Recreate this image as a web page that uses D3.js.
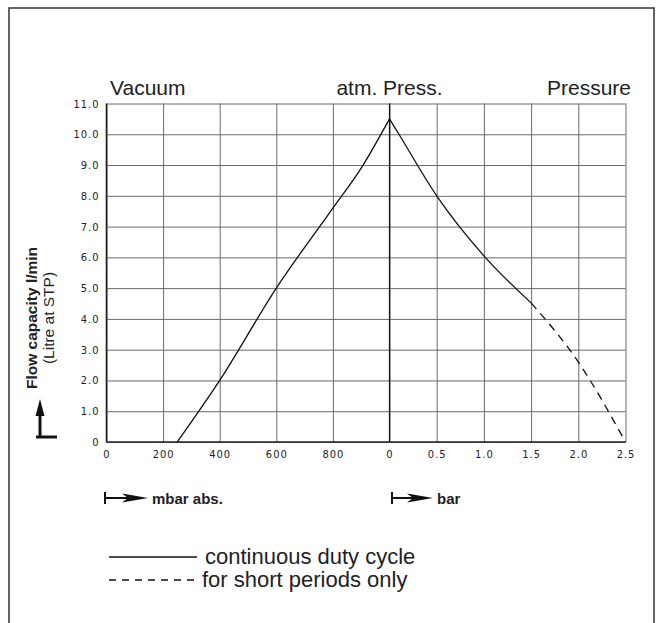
<!DOCTYPE html>
<html>
<head>
<meta charset="utf-8">
<script src="https://cdn.jsdelivr.net/npm/d3@7"></script>
<style>
  body { margin: 0; background: #fff; }
  svg { display: block; }
  .tick text { font-family: 'Liberation Sans Narrow', 'DejaVu Sans Condensed', sans-serif; font-size: 11px; letter-spacing: 1px; fill: #222; }
</style>
</head>
<body>
<svg id="chart" width="663" height="623"></svg>
<script>
// vacuum side: mbar abs. vs flow (l/min)
var vacMbar = [250, 400, 600, 800, 900, 1000];
var vacFlow = [0, 2.0, 5.0, 7.6, 8.9, 10.5];

// pressure side: bar vs flow, continuous part and short-period part
var presBar = [0, 0.1, 0.5, 1.0, 1.5];
var presFlow = [10.5, 10.0, 8.0, 6.05, 4.52];
var shortBar = [1.5, 2.0, 2.5];
var shortFlow = [4.52, 2.6, 0];

var yTicks = [0, 1, 2, 3, 4, 5, 6, 7, 8, 9, 10, 11];
var vacTicks = [0, 200, 400, 600, 800];
var barTicks = [0, 0.5, 1.0, 1.5, 2.0, 2.5];

var plotL = 106.5, plotM = 389.5, plotR = 625.5, plotT = 103.5, plotB = 442;

var svg = d3.select("#chart");

// outer frame (open at the bottom)
svg.append("path")
    .attr("d", "M9,623V8H654V623")
    .attr("fill", "none")
    .attr("stroke", "#333")
    .attr("stroke-width", 1.5);

let xVac = d3.scaleLinear().domain([0, 1000]).range([plotL, plotM]);
let xBar = d3.scaleLinear().domain([0, 2.5]).range([plotM, plotR]);
let y = d3.scaleLinear().domain([0, 11]).range([plotB, plotT]);

// y axis with horizontal grid
let yAxis = d3.axisLeft(y)
    .tickValues(yTicks)
    .tickSize(-(plotR - plotL))
    .tickPadding(7)
    .tickFormat(d => d == 0 ? "0" : d3.format(".1f")(d));

let gy = svg.append("g")
    .attr("transform", "translate(" + plotL + ",0)")
    .call(yAxis);
gy.select(".domain").remove();
gy.selectAll(".tick line").attr("stroke", "#6a6a6a").attr("stroke-width", 1);

// x axes with vertical grid
let xAxisVac = d3.axisBottom(xVac)
    .tickValues(vacTicks)
    .tickSize(-(plotB - plotT))
    .tickPadding(8)
    .tickFormat(d3.format("d"));

let xAxisBar = d3.axisBottom(xBar)
    .tickValues(barTicks)
    .tickSize(-(plotB - plotT))
    .tickPadding(8)
    .tickFormat(d => d == 0 ? "0" : d3.format(".1f")(d));

[xAxisVac, xAxisBar].forEach(ax => {
    let g = svg.append("g")
        .attr("transform", "translate(0," + plotB + ")")
        .call(ax);
    g.select(".domain").remove();
    g.selectAll(".tick line").attr("stroke", "#6a6a6a").attr("stroke-width", 1);
});

// axis lines
svg.append("line").attr("x1", plotL).attr("x2", plotL).attr("y1", plotT).attr("y2", plotB)
    .attr("stroke", "#222").attr("stroke-width", 1.6);
svg.append("line").attr("x1", plotL).attr("x2", plotR).attr("y1", plotB).attr("y2", plotB)
    .attr("stroke", "#222").attr("stroke-width", 1.6);
svg.append("line").attr("x1", plotM).attr("x2", plotM).attr("y1", plotT).attr("y2", plotB)
    .attr("stroke", "#111").attr("stroke-width", 1.2);

// curves
let lineVac = d3.line().x(d => xVac(d[0])).y(d => y(d[1])).curve(d3.curveMonotoneX);
let lineBar = d3.line().x(d => xBar(d[0])).y(d => y(d[1])).curve(d3.curveMonotoneX);

svg.append("path")
    .datum(d3.zip(vacMbar, vacFlow))
    .attr("d", lineVac)
    .attr("fill", "none").attr("stroke", "#111").attr("stroke-width", 1.3);

svg.append("path")
    .datum(d3.zip(presBar, presFlow))
    .attr("d", lineBar)
    .attr("fill", "none").attr("stroke", "#111").attr("stroke-width", 1.3);

svg.append("path")
    .datum(d3.zip(shortBar, shortFlow))
    .attr("d", lineBar)
    .attr("fill", "none").attr("stroke", "#111").attr("stroke-width", 1.3)
    .attr("stroke-dasharray", "8,6");

// headings
var headFont = "'Liberation Sans', Arial, sans-serif";
svg.append("text").attr("x", 110).attr("y", 95).attr("font-family", headFont).attr("font-size", 21)
    .attr("fill", "#222").text("Vacuum");
svg.append("text").attr("x", plotM).attr("y", 95).attr("font-family", headFont).attr("font-size", 21)
    .attr("text-anchor", "middle").attr("fill", "#222").text("atm. Press.");
svg.append("text").attr("x", 631).attr("y", 95).attr("font-family", headFont).attr("font-size", 21)
    .attr("text-anchor", "end").attr("fill", "#222").text("Pressure");

// y axis title
let ylab = svg.append("g").attr("transform", "translate(37,318) rotate(-90)");
ylab.append("text").attr("text-anchor", "middle").attr("font-family", headFont)
    .attr("font-size", 15.5).attr("font-weight", "bold").attr("fill", "#222")
    .text("Flow capacity l/min");
ylab.append("text").attr("y", 17).attr("text-anchor", "middle").attr("font-family", headFont)
    .attr("font-size", 15.5).attr("fill", "#222")
    .text("(Litre at STP)");

// up arrow with foot
svg.append("line").attr("x1", 36).attr("x2", 57).attr("y1", 437).attr("y2", 437)
    .attr("stroke", "#111").attr("stroke-width", 3);
svg.append("line").attr("x1", 40).attr("x2", 40).attr("y1", 437).attr("y2", 410)
    .attr("stroke", "#111").attr("stroke-width", 3);
svg.append("path").attr("d", "M40,399L44.5,416L35.5,416Z").attr("fill", "#111");

// unit arrows
function unitArrow(x0, len, label) {
    svg.append("line").attr("x1", x0).attr("x2", x0).attr("y1", 492).attr("y2", 504)
        .attr("stroke", "#111").attr("stroke-width", 2);
    svg.append("line").attr("x1", x0).attr("x2", x0 + len - 10).attr("y1", 498).attr("y2", 498)
        .attr("stroke", "#111").attr("stroke-width", 2);
    svg.append("path")
        .attr("d", "M" + (x0 + len) + ",498L" + (x0 + len - 26) + ",493.5L" + (x0 + len - 20) + ",498L" + (x0 + len - 26) + ",502.5Z")
        .attr("fill", "#111");
    svg.append("text").attr("x", x0 + len + 4).attr("y", 503.5).attr("font-family", headFont)
        .attr("font-size", 15).attr("font-weight", "bold").attr("fill", "#222").text(label);
}
unitArrow(105, 43, "mbar abs.");
unitArrow(392, 41, "bar");

// legend
svg.append("line").attr("x1", 109).attr("x2", 197).attr("y1", 557).attr("y2", 557)
    .attr("stroke", "#111").attr("stroke-width", 1.5);
svg.append("text").attr("x", 205).attr("y", 564).attr("font-family", headFont).attr("font-size", 22)
    .attr("fill", "#222").text("continuous duty cycle");
svg.append("line").attr("x1", 109).attr("x2", 195).attr("y1", 580).attr("y2", 580)
    .attr("stroke", "#111").attr("stroke-width", 1.5).attr("stroke-dasharray", "7,6");
svg.append("text").attr("x", 202).attr("y", 587).attr("font-family", headFont).attr("font-size", 22)
    .attr("fill", "#222").text("for short periods only");
</script>
</body>
</html>
